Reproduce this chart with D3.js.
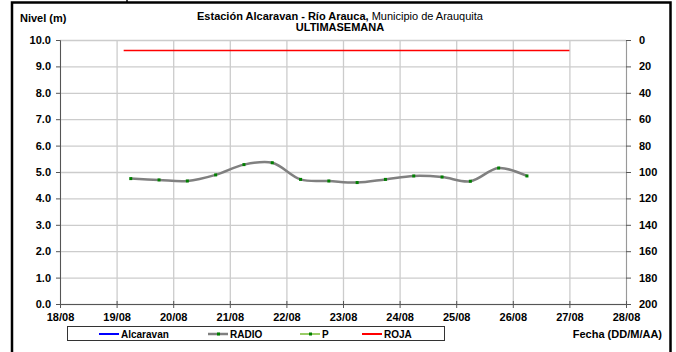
<!DOCTYPE html>
<html>
<head>
<meta charset="utf-8">
<script src="https://cdn.jsdelivr.net/npm/d3@7"></script>
<style>
  body { margin: 0; background: white; }
  text { font-family: "Liberation Sans", Arial, sans-serif; }
</style>
</head>
<body>
<div class="mainVis"></div>
<script>
// serie RADIO: cada 12 horas
var radioTimes = [
  "2015-08-19T06:00", "2015-08-19T18:00", "2015-08-20T06:00", "2015-08-20T18:00",
  "2015-08-21T06:00", "2015-08-21T18:00", "2015-08-22T06:00", "2015-08-22T18:00",
  "2015-08-23T06:00", "2015-08-23T18:00", "2015-08-24T06:00", "2015-08-24T18:00",
  "2015-08-25T06:00", "2015-08-25T18:00", "2015-08-26T06:00"
]
var radioValues = [4.75, 4.70, 4.66, 4.89, 5.28, 5.35, 4.72, 4.66, 4.60, 4.72, 4.85, 4.81, 4.65, 5.15, 4.85]

// cota ROJA
var rojaTimes = ["2015-08-19T03:00", "2015-08-27T00:00"]
var rojaValues = [9.6, 9.6]

var xDomain = ["2015-08-18T00:00", "2015-08-28T00:00"]
var leftTicks = [0, 1, 2, 3, 4, 5, 6, 7, 8, 9, 10]
var rightTicks = [0, 20, 40, 60, 80, 100, 120, 140, 160, 180, 200]

var legendNames = ["Alcaravan", "RADIO", "P", "ROJA"]
var legendColors = { "Alcaravan": "#0000FF", "RADIO": "#808080", "P": "#99CC66", "ROJA": "#FF0000" }

var width = 676, height = 352
var parse = d3.utcParse("%Y-%m-%dT%H:%M")

var svg = d3.select(".mainVis").append("svg")
    .attr("width", width)
    .attr("height", height)

svg.append("rect").attr("width", width).attr("height", height).attr("fill", "white")

// marco
svg.append("path")
    .attr("d", "M12,352 V2.5 H670.5 V352")
    .attr("fill", "none").attr("stroke", "black").attr("stroke-width", 2.5)
svg.append("line").attr("x1", 127).attr("x2", 127).attr("y1", 0).attr("y2", 3)
    .attr("stroke", "black").attr("stroke-width", 1.5)

var plot = { left: 60, right: 626, top: 40, bottom: 304 }

var x = d3.scaleUtc()
    .domain(xDomain.map(parse))
    .range([plot.left, plot.right])
var y = d3.scaleLinear().domain([0, 10]).range([plot.bottom, plot.top])
var y2 = d3.scaleLinear().domain([0, 200]).range([plot.top, plot.bottom])

var days = d3.utcDay.range(x.domain()[0], d3.utcDay.offset(x.domain()[1], 1))

// rejilla
svg.append("g").selectAll("line").data(leftTicks).enter().append("line")
    .attr("x1", plot.left).attr("x2", plot.right)
    .attr("y1", function(d) { return y(d) + 0.5 }).attr("y2", function(d) { return y(d) + 0.5 })
    .attr("stroke", "#cccccc").attr("stroke-width", 1.3)
svg.append("g").selectAll("line").data(days).enter().append("line")
    .attr("x1", function(d) { return x(d) + 0.5 }).attr("x2", function(d) { return x(d) + 0.5 })
    .attr("y1", plot.top).attr("y2", plot.bottom)
    .attr("stroke", "#cccccc").attr("stroke-width", 1.3)

// ejes
var axisLeft = svg.append("g")
    .attr("transform", "translate(" + plot.left + ",0)")
    .call(d3.axisLeft(y).tickValues(leftTicks).tickFormat(d3.format(".1f")).tickSize(4).tickPadding(5))
var axisRight = svg.append("g")
    .attr("transform", "translate(" + plot.right + ",0)")
    .call(d3.axisRight(y2).tickValues(rightTicks).tickSize(5).tickPadding(8))
var axisBottom = svg.append("g")
    .attr("transform", "translate(0," + plot.bottom + ")")
    .call(d3.axisBottom(x).tickValues(days).tickFormat(d3.utcFormat("%d/%m")).tickSizeInner(4).tickSizeOuter(0).tickPadding(5))

;[axisLeft, axisRight, axisBottom].forEach(function(a) {
    a.selectAll("text").style("font-size", "11px").style("font-weight", "bold").attr("fill", "black")
    a.select(".domain").attr("stroke", "#555")
    a.selectAll(".tick line").attr("stroke", "#555")
})
axisRight.select(".domain").attr("stroke", "#999")
axisBottom.selectAll(".tick line").attr("y1", -3)

// series
var line = d3.line()
    .x(function(d) { return x(d.t) })
    .y(function(d) { return y(d.v) })

var rojaData = rojaTimes.map(function(t, i) { return { t: parse(t), v: rojaValues[i] } })
svg.append("path")
    .datum(rojaData)
    .attr("d", line)
    .attr("fill", "none").attr("stroke", legendColors["ROJA"]).attr("stroke-width", 1.5)

var radioData = radioTimes.map(function(t, i) { return { t: parse(t), v: radioValues[i] } })
svg.append("path")
    .datum(radioData)
    .attr("d", line.curve(d3.curveCatmullRom.alpha(0.5)))
    .attr("fill", "none").attr("stroke", legendColors["RADIO"]).attr("stroke-width", 2.5)

svg.append("g").selectAll("rect").data(radioData).enter().append("rect")
    .attr("x", function(d) { return x(d.t) - 1.5 })
    .attr("y", function(d) { return y(d.v) - 1.5 })
    .attr("width", 3).attr("height", 3)
    .attr("fill", "#008000")

// textos
svg.append("text").attr("x", 20).attr("y", 22)
    .style("font-size", "11px").style("font-weight", "bold").text("Nivel (m)")

var title = svg.append("text").attr("x", 340).attr("y", 20).attr("text-anchor", "middle")
    .style("font-size", "11px")
title.append("tspan").style("font-weight", "bold").text("Estación Alcaravan - Río Arauca,")
title.append("tspan").text(" Municipio de Arauquita")
svg.append("text").attr("x", 340).attr("y", 31).attr("text-anchor", "middle")
    .style("font-size", "11px").style("font-weight", "bold").text("ULTIMASEMANA")

svg.append("text").attr("x", 662).attr("y", 338).attr("text-anchor", "end")
    .style("font-size", "11px").style("font-weight", "bold").text("Fecha (DD/M/AA)")

// leyenda
svg.append("rect").attr("x", 67.5).attr("y", 326.5).attr("width", 377).attr("height", 14)
    .attr("fill", "white").attr("stroke", "#333").attr("stroke-width", 1)

var legendX = [99, 208, 300, 362]
var items = svg.append("g").selectAll("g").data(legendNames).enter().append("g")
    .attr("transform", function(d, i) { return "translate(" + legendX[i] + ",334)" })
items.append("line").attr("x1", 0).attr("x2", 20).attr("y1", 0).attr("y2", 0)
    .attr("stroke", function(d) { return legendColors[d] })
    .attr("stroke-width", function(d) { return d == "RADIO" ? 2.5 : 2 })
items.filter(function(d) { return d == "RADIO" || d == "P" }).append("rect")
    .attr("x", 9).attr("y", -1.5).attr("width", 3).attr("height", 3).attr("fill", "#008000")
items.append("text").attr("x", 22).attr("y", 4)
    .style("font-size", "10px").style("font-weight", "bold").text(function(d) { return d })
</script>
</body>
</html>
